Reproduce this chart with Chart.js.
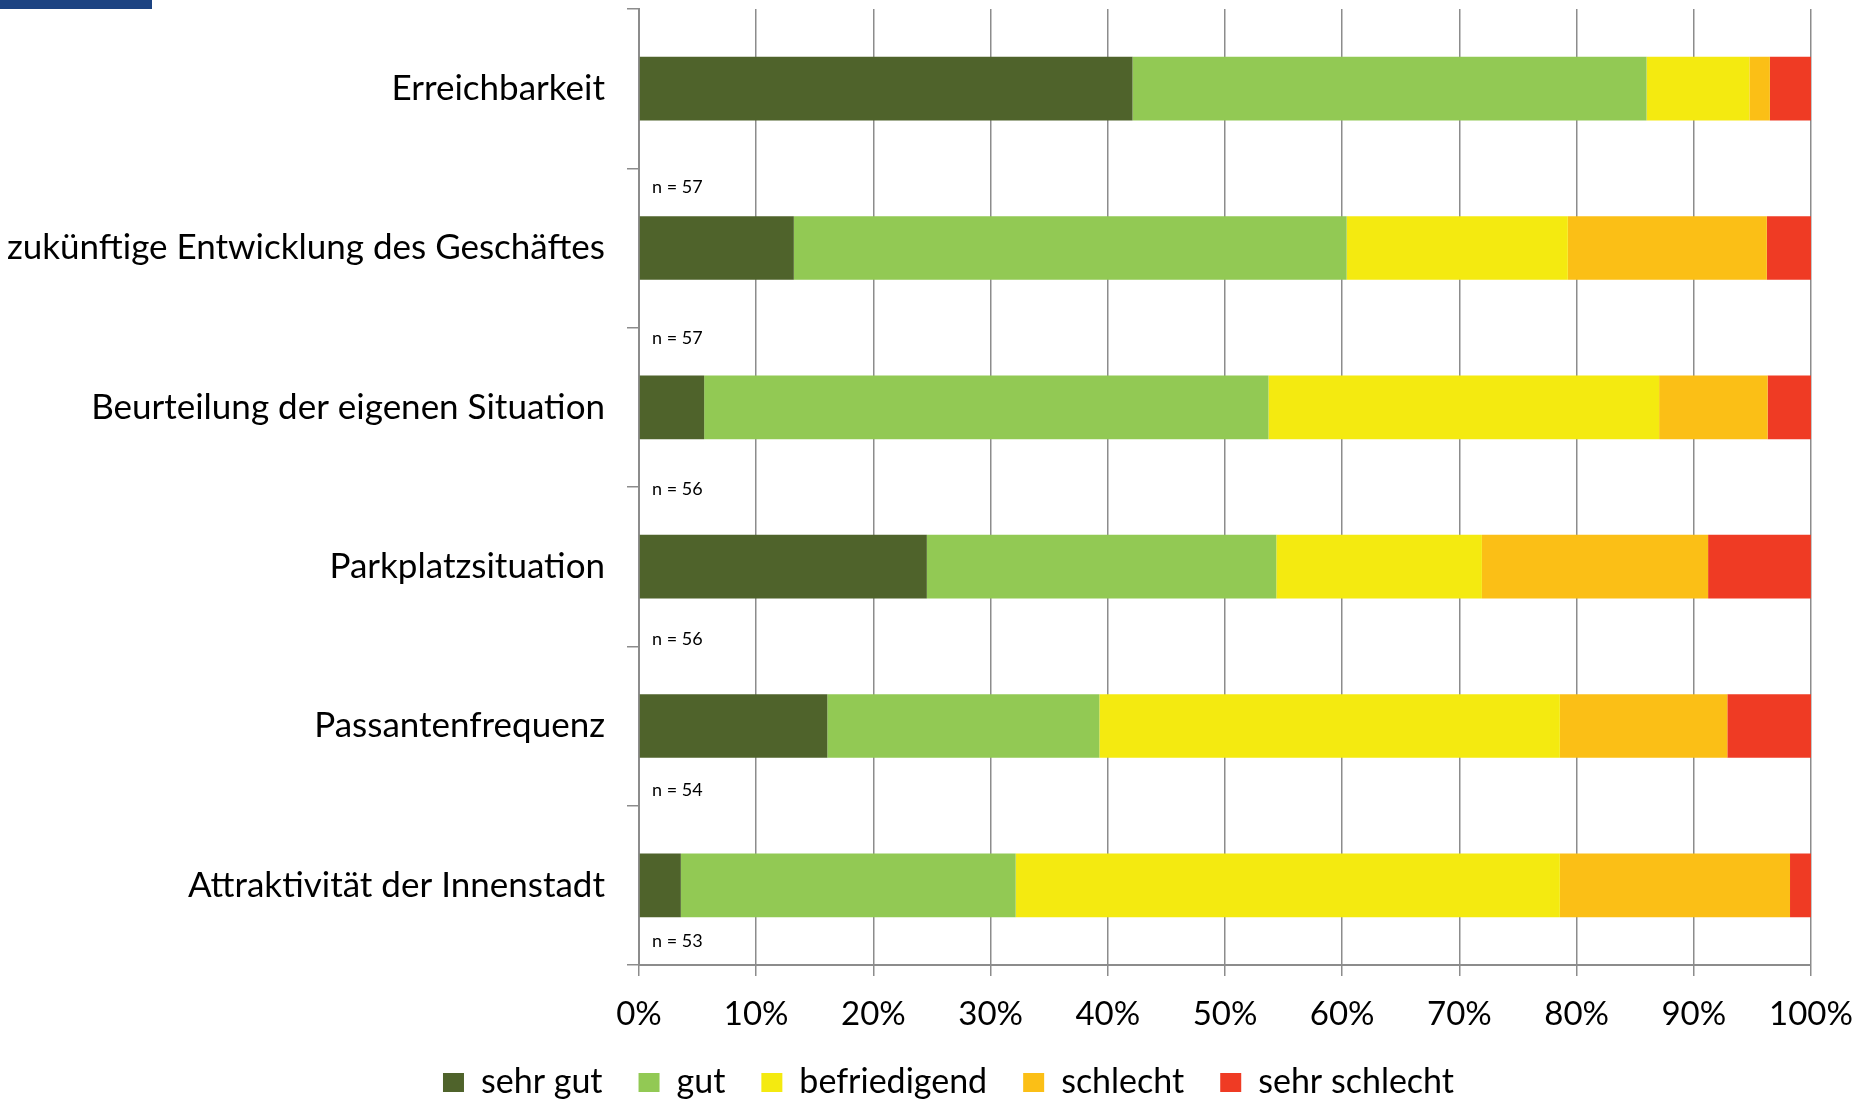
<!DOCTYPE html>
<html><head><meta charset="utf-8">
<script src="https://cdn.jsdelivr.net/npm/chart.js@4.4.1/dist/chart.umd.min.js"></script>
<style>html,body{margin:0;padding:0;background:#fff}</style>
</head><body>
<canvas id="c" width="1872" height="1099"></canvas>
<script>
const categories = ['Erreichbarkeit', 'zukünftige Entwicklung des Geschäftes', 'Beurteilung der eigenen Situation', 'Parkplatzsituation', 'Passantenfrequenz', 'Attraktivität der Innenstadt'];
const sehrGut      = [42.11, 13.21,  5.56, 24.56, 16.07,  3.57];
const gut          = [43.86, 47.17, 48.15, 29.82, 23.21, 28.57];
const befriedigend = [ 8.77, 18.87, 33.33, 17.54, 39.29, 46.43];
const schlecht     = [ 1.75, 16.98,  9.26, 19.30, 14.29, 19.64];
const sehrSchlecht = [ 3.51,  3.77,  3.70,  8.77,  7.14,  1.79];
const sampleSizes  = ['n = 57', 'n = 57', 'n = 56', 'n = 56', 'n = 54', 'n = 53'];
const seriesNames  = ['sehr gut', 'gut', 'befriedigend', 'schlecht', 'sehr schlecht'];
const xTicks = [0, 10, 20, 30, 40, 50, 60, 70, 80, 90, 100];

const colors = ['#4f632b', '#92c954', '#f4ea10', '#fbbf16', '#ef3b24'];
const seriesData = [sehrGut, gut, befriedigend, schlecht, sehrSchlecht];
const FONT = 'Lato';
const GRID = '#8c8c8c';

const extras = {
  id: 'extras',
  afterLayout(chart) {
    if (chart.legend) { chart.legend.left += 43; chart.legend.right += 43; }
  },
  beforeDraw(chart) {
    const ctx = chart.ctx;
    ctx.save();
    ctx.fillStyle = '#1c4382';
    ctx.fillRect(0, 0, 152, 9);
    ctx.restore();
  },
  afterDraw(chart) {
    const {ctx, chartArea} = chart;
    const catH = (chartArea.bottom - chartArea.top) / categories.length;
    ctx.save();
    ctx.font = '18px ' + FONT;
    ctx.fillStyle = '#000';
    ctx.textBaseline = 'middle';
    ctx.textAlign = 'left';
    sampleSizes.forEach((t, k) => {
      const yy = chartArea.top + catH * (1.117 + 0.947 * k);
      ctx.fillText(t, chartArea.left + 13, yy);
    });
    ctx.restore();
  }
};

new Chart(document.getElementById('c'), {
  type: 'bar',
  data: {
    labels: categories,
    datasets: seriesNames.map((name, i) => ({
      label: name,
      data: seriesData[i],
      backgroundColor: colors[i],
      borderWidth: 0,
      barPercentage: 0.4,
      categoryPercentage: 1.0
    }))
  },
  options: {
    indexAxis: 'y',
    responsive: false,
    animation: false,
    layout: { padding: { top: 9, right: 61, bottom: -10.5, left: 0 } },
    plugins: {
      legend: {
        position: 'bottom',
        labels: {
          boxWidth: 21, boxHeight: 19, padding: 36,
          font: { family: FONT, size: 34 }, color: '#000'
        }
      },
      tooltip: { enabled: false }
    },
    scales: {
      x: {
        stacked: true, min: 0, max: 100,
        afterBuildTicks: s => { s.ticks = xTicks.map(v => ({ value: v })); },
        afterFit: s => { s.height = 64.5; },
        ticks: { callback: v => v + '%', font: { family: FONT, size: 33 }, color: '#000', padding: 19, maxRotation: 0 },
        grid: { color: GRID, lineWidth: 1.5, tickLength: 11, drawTicks: true },
        border: { color: GRID, width: 2 }
      },
      y: {
        stacked: true,
        afterFit: s => { s.width = 639; s.paddingTop = 0; s.paddingBottom = 0; },
        ticks: { font: { family: FONT, size: 35 }, color: '#000', padding: 22 },
        grid: { drawOnChartArea: false, drawTicks: true, tickLength: 12, color: GRID, lineWidth: 1.5, offset: true },
        border: { color: GRID, width: 2 }
      }
    }
  },
  plugins: [extras]
});
</script>
</body></html>
